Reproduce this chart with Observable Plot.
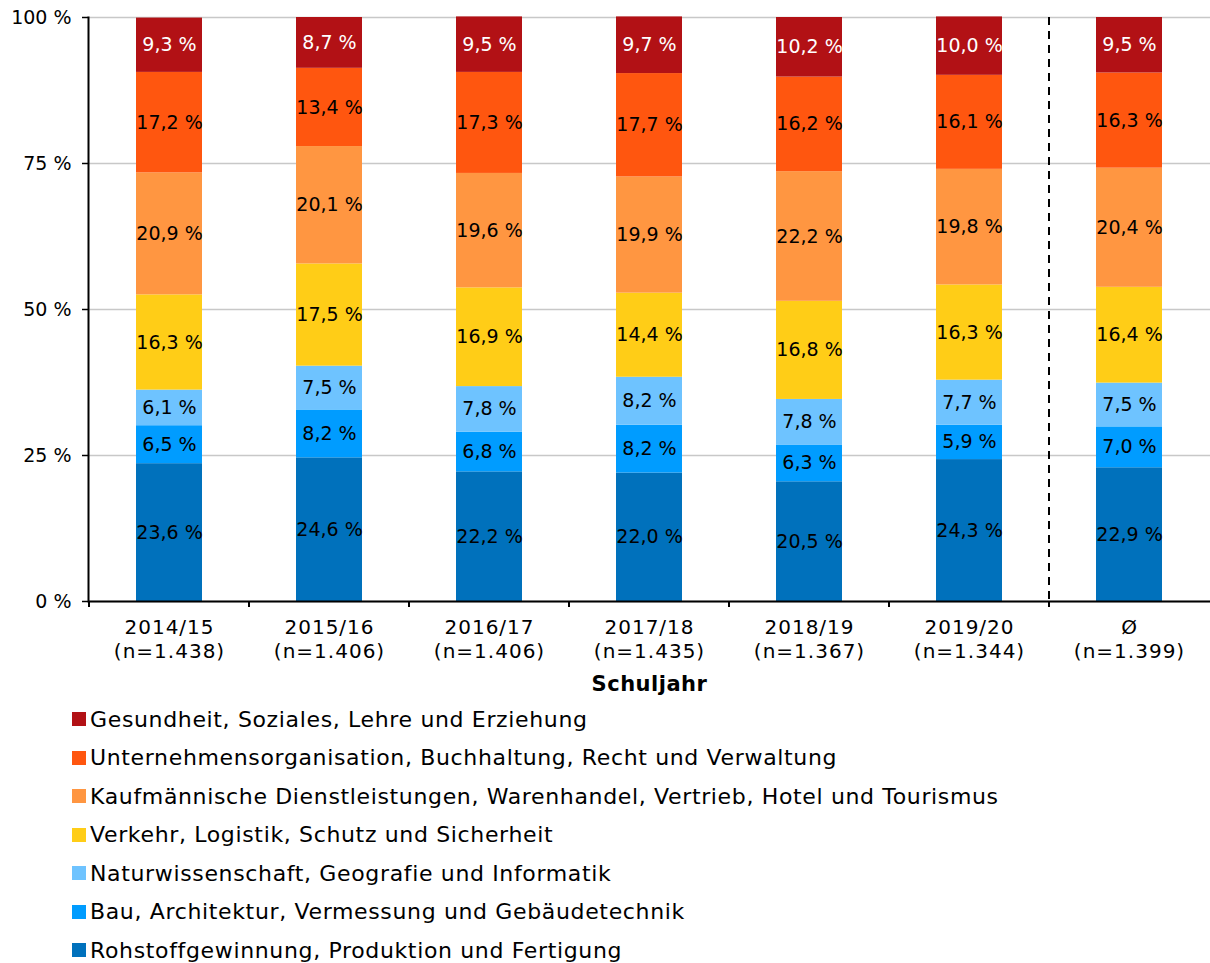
<!DOCTYPE html>
<html>
<head>
<meta charset="utf-8">
<script src="https://cdn.jsdelivr.net/npm/d3@7"></script>
<script src="https://cdn.jsdelivr.net/npm/@observablehq/plot@0.6"></script>
<style>
  html, body { margin: 0; padding: 0; background: #fff; }
  body { font-family: "DejaVu Sans", sans-serif; width: 1210px; }
  #legend { margin-left: 72px; font-size: 22px; letter-spacing: 0.65px; color: #000; }
  .row { height: 38.5px; display: flex; align-items: center; white-space: nowrap; }
  .sw { width: 14px; height: 14px; margin-right: 4px; flex: none; }
</style>
</head>
<body>
<div id="chart"></div>
<div id="legend"></div>
<script>
const years = ["2014/15", "2015/16", "2016/17", "2017/18", "2018/19", "2019/20", "Ø"];
const nValues = ["n=1.438", "n=1.406", "n=1.406", "n=1.435", "n=1.367", "n=1.344", "n=1.399"];
// series from bottom to top of the stack
const series = [
  "Rohstoffgewinnung, Produktion und Fertigung",
  "Bau, Architektur, Vermessung und Gebäudetechnik",
  "Naturwissenschaft, Geografie und Informatik",
  "Verkehr, Logistik, Schutz und Sicherheit",
  "Kaufmännische Dienstleistungen, Warenhandel, Vertrieb, Hotel und Tourismus",
  "Unternehmensorganisation, Buchhaltung, Recht und Verwaltung",
  "Gesundheit, Soziales, Lehre und Erziehung"
];
const colors = ["#0071bc", "#009cff", "#6ec3ff", "#ffcd17", "#ff9641", "#ff560f", "#b21115"];
const rohstoff     = [23.6, 24.6, 22.2, 22.0, 20.5, 24.3, 22.9];
const bau          = [6.5, 8.2, 6.8, 8.2, 6.3, 5.9, 7.0];
const natur        = [6.1, 7.5, 7.8, 8.2, 7.8, 7.7, 7.5];
const verkehr      = [16.3, 17.5, 16.9, 14.4, 16.8, 16.3, 16.4];
const kaufm        = [20.9, 20.1, 19.6, 19.9, 22.2, 19.8, 20.4];
const unternehmen  = [17.2, 13.4, 17.3, 17.7, 16.2, 16.1, 16.3];
const gesundheit   = [9.3, 8.7, 9.5, 9.7, 10.2, 10.0, 9.5];
const yTicks = [0, 25, 50, 75, 100];

const seriesValues = [rohstoff, bau, natur, verkehr, kaufm, unternehmen, gesundheit];
const data = [];
series.forEach((s, si) => {
  years.forEach((y, yi) => {
    data.push({year: y, series: s, value: seriesValues[si][yi], top: si === series.length - 1});
  });
});
const nByYear = new Map(years.map((y, i) => [y, nValues[i]]));
const fmt = v => v.toFixed(1).replace(".", ",") + " %";

const chart = Plot.plot({
  width: 1210,
  height: 700,
  marginLeft: 88,
  marginRight: 0,
  marginTop: 17,
  marginBottom: 99,
  style: {fontFamily: "DejaVu Sans, sans-serif", fontSize: "19px", color: "#000", background: "#fff"},
  x: {domain: years, paddingInner: 0.59, paddingOuter: 0.295, label: null},
  y: {domain: [0, 100], label: null},
  color: {domain: series, range: colors},
  marks: [
    Plot.gridY(yTicks, {stroke: "#c8c8c8", strokeOpacity: 1, strokeWidth: 1.5}),
    Plot.barY(data, Plot.stackY({x: "year", y: "value", fill: "series", order: null})),
    Plot.text(data, Plot.stackY({
      x: "year", y: "value", z: "series", order: null,
      text: d => fmt(d.value),
      fill: d => d.top ? "#fff" : "#000",
      fontSize: 19
    })),
    Plot.axisY({ticks: yTicks, tickFormat: d => d + " %", tickSize: 6, tickPadding: 11, fontSize: 19, stroke: "#000", strokeWidth: 1.5}),
    Plot.axisX({tickSize: 0, tickPadding: 15, fontSize: 20, lineHeight: 1.22,
      tickFormat: d => d + "\n(" + nByYear.get(d) + ")"}),
    Plot.frame({anchor: "left", stroke: "#000", strokeWidth: 2}),
    Plot.ruleY([0], {stroke: "#000", strokeWidth: 2}),
    Plot.text(["Schuljahr"], {frameAnchor: "bottom", dy: 89, fontWeight: "bold", fontSize: 21})
  ]
});

// axis boundary ticks and dashed separator, using Plot's own scales
const xs = chart.scale("x");
const ys = chart.scale("y");
const svg = d3.select(chart);
svg.selectAll('g[aria-label="x-axis tick label"] text').style("letter-spacing", "1px");
svg.selectAll('g[aria-label="text"] text').filter(function() { return this.textContent === "Schuljahr"; }).style("letter-spacing", "0.5px");
const off = (xs.step - xs.bandwidth) / 2;
const y0 = ys.apply(0), y100 = ys.apply(100);
const bounds = years.map(y => xs.apply(y) - off);
const g = svg.append("g").attr("stroke", "#000");
bounds.forEach(bx => {
  g.append("line").attr("x1", bx).attr("x2", bx).attr("y1", y0).attr("y2", y0 + 6).attr("stroke-width", 2);
});
const sep = bounds[years.length - 1];
g.append("line").attr("x1", sep).attr("x2", sep).attr("y1", y100).attr("y2", y0)
  .attr("stroke-width", 2).attr("stroke-dasharray", "8,6");

document.getElementById("chart").appendChild(chart);

const legend = document.getElementById("legend");
series.slice().reverse().forEach((s, i) => {
  const c = colors[series.length - 1 - i];
  const row = document.createElement("div");
  row.className = "row";
  row.innerHTML = `<span class="sw" style="background:${c}"></span><span>${s}</span>`;
  legend.appendChild(row);
});
</script>
</body>
</html>
